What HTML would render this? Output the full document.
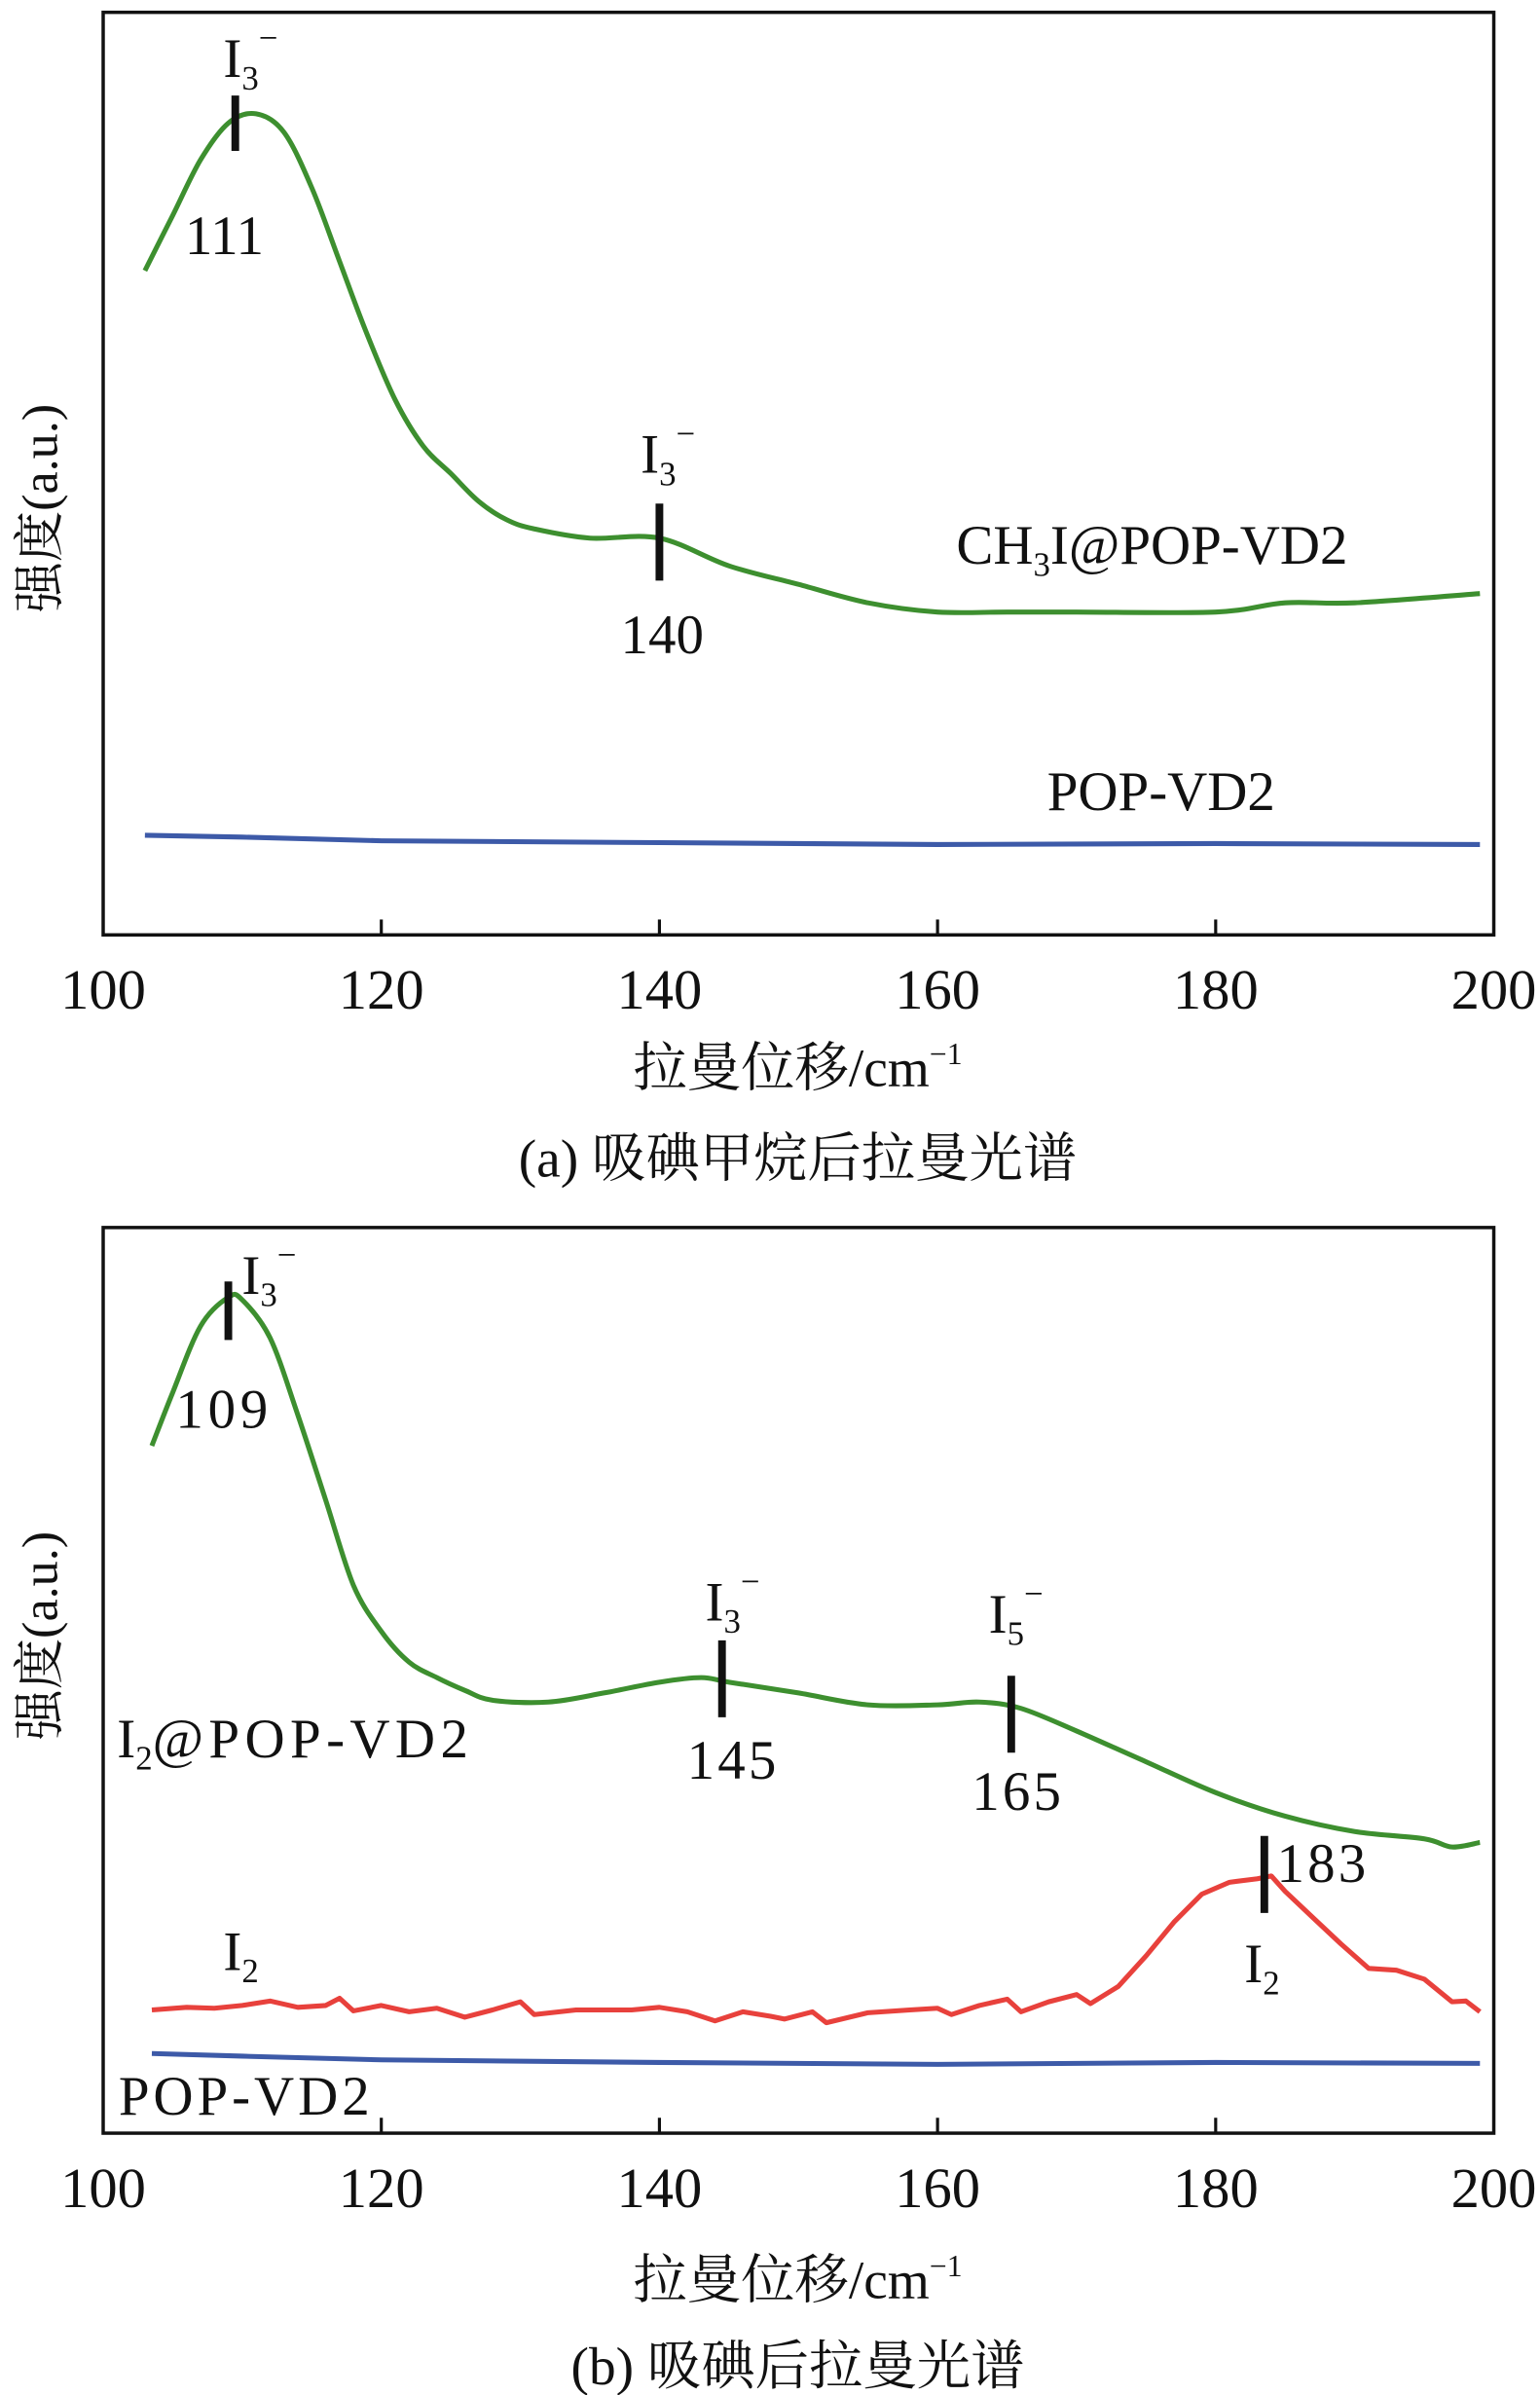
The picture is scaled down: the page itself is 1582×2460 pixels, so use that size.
<!DOCTYPE html>
<html><head><meta charset="utf-8"><style>
html,body{margin:0;padding:0;background:#fff}
svg{display:block}
text{font-family:"Liberation Serif","Noto Serif CJK SC","Noto Sans CJK SC",serif;fill:#111}
</style></head><body>
<svg id="chart" width="1582" height="2460" viewBox="0 0 1000 1555" xmlns="http://www.w3.org/2000/svg">
<g id="pa"></g>
<g id="pb"></g>
</svg>
<script>
const xTicks=[100,120,140,160,180,200];
const aGreenX=[103,105,107,109,111,113,115,117,119,121,123,125,127,129,131,135,140,145,150,155,160,165,170,180,185,190,199];
const aGreenY=[72,78,84,88,89,87,81,73,65,58,53,50,47,45,44,43,43,40,38,36,35,35,35,35,36,36,37];
const aBlueX=[103,110,120,140,160,180,199];
const aBlueY=[10.8,10.6,10.2,10.0,9.8,9.9,9.8];
const bGreenX=[103.5,105,107,109,110,112,114,116,118,120,122,124,126,128,132,136,140,143,145,150,155,160,163,166,170,175,180,185,190,195,197,199];
const bGreenY=[75.9,81.8,89.1,92.3,92.0,87.8,79.3,69.9,60.5,55.4,52.0,50.3,48.9,47.8,47.6,48.6,49.8,50.3,49.8,48.6,47.3,47.3,47.6,46.9,44.4,41.0,37.6,35.0,33.3,32.5,31.6,32.1];
const bRedX=[103.5,106,108,110,112,114,116,117,118,120,122,124,126,128,130,131,134,138,140,142,144,146,148,149,151,152,155,158,160,161,163,165,166,168,170,171,173,175,177,179,181,183,184,185,187,189,191,193,195,197,198,199];
const bRedY=[13.6,13.9,13.8,14.1,14.6,13.9,14.1,14.9,13.5,14.1,13.4,13.8,12.8,13.6,14.5,13.1,13.6,13.6,13.9,13.4,12.4,13.4,12.9,12.6,13.4,12.2,13.3,13.6,13.8,13.1,14.1,14.8,13.4,14.5,15.3,14.3,16.2,19.6,23.3,26.4,27.7,28.1,28.4,26.7,23.8,20.9,18.2,18.0,17.0,14.5,14.6,13.4];
const bBlueX=[103.5,110,120,140,160,180,199];
const bBlueY=[8.8,8.5,8.1,7.8,7.6,7.8,7.7];

const NS="http://www.w3.org/2000/svg";
function mk(p,tag,at,txt){const e=document.createElementNS(NS,tag);for(const k in at)e.setAttribute(k,at[k]);if(txt!==undefined)e.textContent=txt;p.appendChild(e);return e;}
function smoothPath(P){
  let d='M'+P[0][0].toFixed(1)+','+P[0][1].toFixed(1);
  for(let i=0;i<P.length-1;i++){
    const p0=P[Math.max(i-1,0)],p1=P[i],p2=P[i+1],p3=P[Math.min(i+2,P.length-1)];
    const c1=[p1[0]+(p2[0]-p0[0])/6,p1[1]+(p2[1]-p0[1])/6];
    const c2=[p2[0]-(p3[0]-p1[0])/6,p2[1]-(p3[1]-p1[1])/6];
    d+='C'+c1[0].toFixed(1)+','+c1[1].toFixed(1)+' '+c2[0].toFixed(1)+','+c2[1].toFixed(1)+' '+p2[0].toFixed(1)+','+p2[1].toFixed(1);
  }
  return d;
}
function panel(g,top,bot,cfg){
  const L=67,R=970;
  const sx=v=>L+(v-100)*(R-L)/100;
  const sy=v=>bot-v*(bot-top)/100;
  const box=mk(g,'rect',{x:L,y:top,width:R-L,height:bot-top,fill:'none',stroke:'#111','stroke-width':2.2});
  
  
  xTicks.forEach(t=>{
    if(t>100&&t<200){const tk=mk(g,'line',{x1:sx(t),x2:sx(t),y1:bot,y2:bot-10,stroke:'#111','stroke-width':2});
      
      }
    const tl=mk(g,'text',{x:sx(t),y:bot+48,'font-size':37,'text-anchor':'middle'},String(t));
    
    
  });
  cfg.series.forEach(s=>{
    const pts=s.x.map((v,i)=>[sx(v),sy(s.y[i])]);
    const d=s.smooth?smoothPath(pts):pts.map((q,i)=>(i?'L':'M')+q[0].toFixed(1)+','+q[1].toFixed(1)).join('');
    const p=mk(g,'path',{d:d,fill:'none',stroke:s.c,'stroke-width':3.2,'stroke-linejoin':'round'});
    
    
  });
  cfg.marks.forEach(m=>{
    const b=mk(g,'line',{x1:sx(m[0]),x2:sx(m[0]),y1:m[1],y2:m[2],stroke:'#111','stroke-width':5});
    
    
  });
  return {sx,sy};
}
const pa=document.getElementById('pa'), pb=document.getElementById('pb');
panel(pa,8,607,{series:[{x:aGreenX,y:aGreenY,c:'#3d8f2f',n:'ch3i-pop-vd2-line',smooth:true},{x:aBlueX,y:aBlueY,c:'#3d5aa8',n:'pop-vd2-line'}],marks:[[109.5,62,98],[140,327,377]]});
panel(pb,797,1385,{series:[{x:bGreenX,y:bGreenY,c:'#3d8f2f',n:'i2-pop-vd2-line',smooth:true},{x:bRedX,y:bRedY,c:'#e8413c',n:'i2-line'},{x:bBlueX,y:bBlueY,c:'#3d5aa8',n:'pop-vd2-line'}],marks:[[109,832,870],[144.5,1065,1115],[165.3,1088,1138],[183.5,1192,1242]]});
</script>
<svg style="position:absolute;left:0;top:0" width="1582" height="2460" viewBox="0 0 1000 1555" xmlns="http://www.w3.org/2000/svg">
<g font-size="36">
<text x="145" y="50">I<tspan font-size="22" dy="8">3</tspan><tspan font-size="22" dy="-26">−</tspan></text>
<text x="120" y="165">111</text>
<text x="416" y="307">I<tspan font-size="22" dy="8">3</tspan><tspan font-size="22" dy="-26">−</tspan></text>
<text x="403" y="424">140</text>
<text x="621" y="366">CH<tspan font-size="22" dy="8">3</tspan><tspan dy="-8">I@POP-VD2</tspan></text>
<text x="680" y="526">POP-VD2</text>
<text x="25" y="330" transform="rotate(-90 25 330)" text-anchor="middle" font-size="33" dy="12">强度(a.u.)</text>
<text x="518" y="705" text-anchor="middle" font-size="35">拉曼位移/cm<tspan font-size="20" dy="-14">−1</tspan></text>
<text x="518" y="764" text-anchor="middle" font-size="35">(a) 吸碘甲烷后拉曼光谱</text>

<text x="157" y="840">I<tspan font-size="22" dy="8">3</tspan><tspan font-size="22" dy="-26">−</tspan></text>
<text x="114" y="927" textLength="60">109</text>
<text x="458" y="1052">I<tspan font-size="22" dy="8">3</tspan><tspan font-size="22" dy="-26">−</tspan></text>
<text x="446" y="1155" textLength="58">145</text>
<text x="642" y="1060">I<tspan font-size="22" dy="8">5</tspan><tspan font-size="22" dy="-26">−</tspan></text>
<text x="631" y="1175" textLength="58">165</text>
<text x="829" y="1222" textLength="58">183</text>
<text x="808" y="1287">I<tspan font-size="22" dy="8">2</tspan></text>
<text x="145" y="1279">I<tspan font-size="22" dy="8">2</tspan></text>
<text x="76" y="1141">I<tspan font-size="22" dy="8">2</tspan><tspan dy="-8" textLength="205">@POP-VD2</tspan></text>
<text x="77" y="1373" textLength="163">POP-VD2</text>
<text x="25" y="1062" transform="rotate(-90 25 1062)" text-anchor="middle" font-size="33" dy="12">强度(a.u.)</text>
<text x="518" y="1492" text-anchor="middle" font-size="35">拉曼位移/cm<tspan font-size="20" dy="-14">−1</tspan></text>
<text x="518" y="1548" text-anchor="middle" font-size="35">(b) 吸碘后拉曼光谱</text>
</g>
</svg>
</body></html>
